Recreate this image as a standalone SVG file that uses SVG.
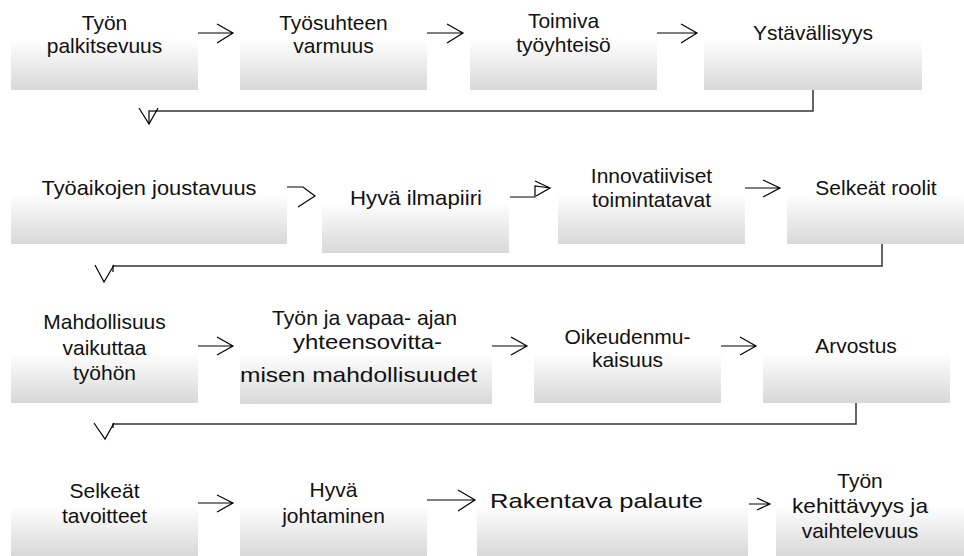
<svg xmlns="http://www.w3.org/2000/svg" width="964" height="556" viewBox="0 0 964 556">
<defs>
<linearGradient id="g" x1="0" y1="0" x2="0" y2="1">
<stop offset="0" stop-color="#ffffff"/>
<stop offset="0.4" stop-color="#ffffff"/>
<stop offset="1" stop-color="#d8d8d8"/>
</linearGradient>
</defs>
<style>
.b{fill:url(#g);stroke:none}
.t{font-family:"Liberation Sans",Arial,sans-serif;font-size:21px;fill:#111;text-anchor:middle}
.w{lengthAdjust:spacingAndGlyphs}
.a{fill:none;stroke:#000;stroke-width:1.2}
.c{fill:none;stroke:#333;stroke-width:1.5}
</style>
<rect width="964" height="556" fill="#fff"/>
<g id="n1"><rect class="b" x="11" y="5" width="187" height="85"/><text class="t" x="104.5" y="30">Työn</text><text class="t" x="104.5" y="53">palkitsevuus</text></g>
<g id="n2"><rect class="b" x="240" y="5" width="187" height="85"/><text class="t" x="333.5" y="30">Työsuhteen</text><text class="t" x="333.5" y="53">varmuus</text></g>
<g id="n3"><rect class="b" x="470" y="5" width="187" height="85"/><text class="t" x="563.5" y="28">Toimiva</text><text class="t" x="563.5" y="52">työyhteisö</text></g>
<g id="n4"><rect class="b" x="704" y="5" width="218" height="85"/><text class="t" x="813" y="40">Ystävällisyys</text></g>
<g id="n5"><rect class="b" x="11" y="159" width="276" height="85"/><text class="t" x="149" y="195" textLength="215" lengthAdjust="spacingAndGlyphs">Työaikojen joustavuus</text></g>
<g id="n6"><rect class="b" x="322" y="168" width="187" height="85"/><text class="t" x="416" y="205" textLength="132" lengthAdjust="spacingAndGlyphs">Hyvä ilmapiiri</text></g>
<g id="n7"><rect class="b" x="558" y="159" width="187" height="85"/><text class="t" x="651.5" y="183">Innovatiiviset</text><text class="t" x="651.5" y="207">toimintatavat</text></g>
<g id="n8"><rect class="b" x="787" y="159" width="177" height="85"/><text class="t" x="876" y="195">Selkeät roolit</text></g>
<g id="n9"><rect class="b" x="11" y="318" width="187" height="85"/><text class="t" x="104.5" y="329">Mahdollisuus</text><text class="t" x="104.5" y="355">vaikuttaa</text><text class="t" x="104.5" y="380">työhön</text></g>
<g id="n10"><rect class="b" x="240" y="319" width="252" height="85"/><text class="t" x="364.5" y="325" textLength="185" lengthAdjust="spacingAndGlyphs">Työn ja vapaa- ajan</text><text class="t" x="367.5" y="349" textLength="149" lengthAdjust="spacingAndGlyphs">yhteensovitta-</text><text class="t" x="358.5" y="382" textLength="237" lengthAdjust="spacingAndGlyphs">misen mahdollisuudet</text></g>
<g id="n11"><rect class="b" x="534" y="318" width="187" height="85"/><text class="t" x="627.5" y="344">Oikeudenmu-</text><text class="t" x="627.5" y="367">kaisuus</text></g>
<g id="n12"><rect class="b" x="763" y="318" width="187" height="85"/><text class="t" x="856" y="353">Arvostus</text></g>
<g id="n13"><rect class="b" x="11" y="471" width="187" height="85"/><text class="t" x="104.5" y="498">Selkeät</text><text class="t" x="104.5" y="523">tavoitteet</text></g>
<g id="n14"><rect class="b" x="240" y="471" width="187" height="85"/><text class="t" x="333.5" y="497">Hyvä</text><text class="t" x="333.5" y="523">johtaminen</text></g>
<g id="n15"><rect class="b" x="477" y="471" width="271" height="85"/><text class="t" x="596.5" y="508" textLength="213" lengthAdjust="spacingAndGlyphs">Rakentava palaute</text></g>
<g id="n16"><rect class="b" x="776" y="471" width="188" height="85"/><text class="t" x="860" y="488">Työn</text><text class="t" x="860" y="513" textLength="136" lengthAdjust="spacingAndGlyphs">kehittävyys ja</text><text class="t" x="860" y="538">vaihtelevuus</text></g>
<g id="connectors">
<path class="a" d="M198,33H233M217,24L233,33L217,43"/>
<path class="a" d="M427,33H463M447,24L463,33L447,43"/>
<path class="a" d="M657,33H697M681,24L697,33L681,43"/>
<path class="c" d="M813,90V111H149V124"/>
<path class="a" d="M139,108L149,124L158,108"/>
<path class="a" d="M287,187H303L315,196L298,207"/>
<path class="a" d="M510,197H535V186L550,188L536,196M535,181L550,188"/>
<path class="a" d="M745,188H780M763,180L780,188L763,197"/>
<path class="c" d="M882,244V266H113V272"/>
<path class="a" d="M95,265L104,282L114,265"/>
<path class="a" d="M198,346H233M217,337L233,346L217,355"/>
<path class="a" d="M492,346H527M511,337L527,346L511,355"/>
<path class="a" d="M721,346H756M740,337L756,346L740,355"/>
<path class="c" d="M856,403V424H113V428"/>
<path class="a" d="M94,423L105,439L114,423"/>
<path class="a" d="M198,503H233M217,495L233,503L217,512"/>
<path class="a" d="M427,500H475M458,490L475,500L458,511"/>
<path class="a" d="M749,504H770M757,498L770,504L757,510"/>
</g>
</svg>
